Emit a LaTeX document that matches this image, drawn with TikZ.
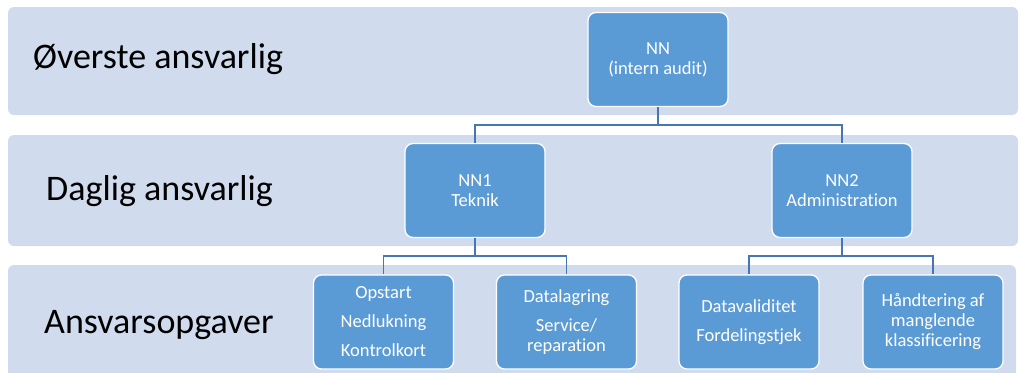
\documentclass[tikz,border=0pt]{standalone}
\usepackage{fontspec}
\setmainfont[Ligatures=NoCommon]{Carlito}
\definecolor{bandfill}{HTML}{D0DCEE}
\definecolor{boxfill}{HTML}{5B9BD5}
\definecolor{linkcol}{HTML}{4677B0}
\begin{document}
\begin{tikzpicture}[x=1pt,y=-1pt,
  band/.style={fill=bandfill, rounded corners=6pt},
  bandlabel/.style={anchor=base west, inner sep=0pt, font=\fontsize{36}{40}\selectfont},
  orgbox/.style={rectangle, rounded corners=8pt, fill=boxfill, draw=white,
    line width=1.3pt, text=white, align=center, inner sep=0pt,
    minimum width=140pt, minimum height=94pt,
    font=\fontsize{18.5}{20}\selectfont},
  link/.style={draw=linkcol, line width=1.4pt}]
\useasboundingbox (0,0) rectangle (1019,372);
\clip (0,0) rectangle (1019,372);

% level bands
\fill[band] (8,7) rectangle (1018,115);
\fill[band] (8,135) rectangle (1018,246);
\fill[band] (8,265) rectangle (1016,390);

% level titles
\node[bandlabel] (t1) at (33,68) {Øverste ansvarlig};
\node[bandlabel] (t2) at (46,200) {Daglig ansvarlig};
\node[bandlabel] (t3) at (44,333) {Ansvarsopgaver};

% boxes
\node[orgbox] (nn) at (658,59.5) {NN\\(intern audit)};
\node[orgbox] (nn1) at (475,190.5) {NN1\\Teknik};
\node[orgbox] (nn2) at (842,190.5) {NN2\\Administration};
\node[orgbox] (a1) at (383.5,322) {Opstart\\[9pt]Nedlukning\\[9pt]Kontrolkort};
\node[orgbox] (a2) at (566.5,322) {Datalagring\\[9pt]Service/\\reparation};
\node[orgbox] (a3) at (749,322) {Datavaliditet\\[9pt]Fordelingstjek};
\node[orgbox] (a4) at (933,322) {Håndtering af\\manglende\\klassificering};

% connectors
\draw[link] (nn.south) -- (nn.south |- 0,125) -| (nn1.north);
\draw[link] (nn.south |- 0,125) -| (nn2.north);
\draw[link] (nn1.south) -- (nn1.south |- 0,256) -| (a1.north);
\draw[link] (nn1.south |- 0,256) -| (a2.north);
\draw[link] (nn2.south) -- (nn2.south |- 0,256) -| (a3.north);
\draw[link] (nn2.south |- 0,256) -| (a4.north);
\end{tikzpicture}
\end{document}
